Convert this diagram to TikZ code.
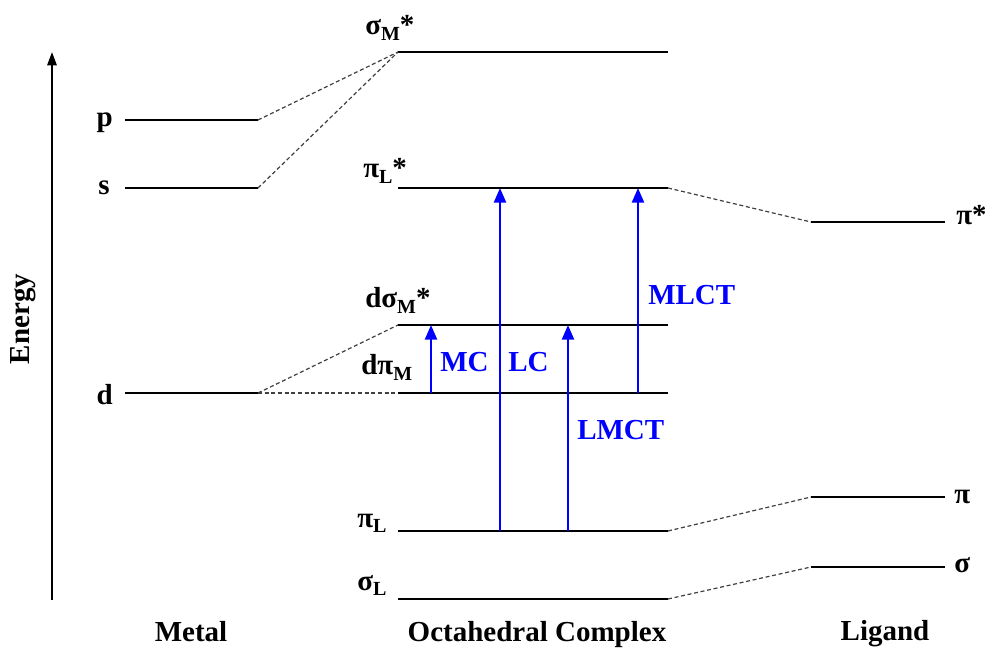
\documentclass[tikz,border=0pt]{standalone}
\usepackage{fontspec}
\setmainfont{Liberation Serif}
\usetikzlibrary{arrows.meta}
\newcommand{\levsub}[1]{\raisebox{-0.2em}{\fontsize{15}{15}\selectfont #1}}

\tikzset{
  level/.style={line width=2.1pt},
  corr/.style={draw={rgb, 255:red, 64; green, 64; blue, 64 }, line width=0.9pt, dash pattern=on 3pt off 2pt},
  trans/.style={draw={rgb, 255:red, 0; green, 0; blue, 255 }, line width=1.8pt, -{Triangle[length=11pt,width=9pt]}},
  lbl/.style={inner sep=0pt, font=\bfseries\fontsize{21.75}{26}\selectfont},
  tlbl/.style={lbl, text={rgb, 255:red, 0; green, 0; blue, 255 }}
}

\begin{document}
\begin{tikzpicture}[x=0.75pt,y=0.75pt,yscale=-1,xscale=1]
\path[use as bounding box] (0,0) rectangle (985,648);

%Energy axis
\coordinate (ax-b) at (52,600);
\coordinate (ax-t) at (52,52);
\draw [line width=1.5pt, -{Triangle[length=10pt,width=7pt]}] (ax-b) -- (ax-t) ;

%Metal levels
\coordinate (mp-w) at (125,120); \coordinate (mp-e) at (258,120);
\coordinate (ms-w) at (125,188); \coordinate (ms-e) at (258,188);
\coordinate (md-w) at (125,393); \coordinate (md-e) at (258,393);
\draw [level] (mp-w) -- (mp-e) ;
\draw [level] (ms-w) -- (ms-e) ;
\draw [level] (md-w) -- (md-e) ;

%Complex levels
\coordinate (sm-w) at (398,52);  \coordinate (sm-e) at (668,52);
\coordinate (pls-w) at (398,188); \coordinate (pls-e) at (668,188);
\coordinate (dsm-w) at (398,325); \coordinate (dsm-e) at (668,325);
\coordinate (dpm-w) at (398,393); \coordinate (dpm-e) at (668,393);
\coordinate (pl-w) at (398,531); \coordinate (pl-e) at (668,531);
\coordinate (sl-w) at (398,599); \coordinate (sl-e) at (668,599);
\draw [level] (sm-w) -- (sm-e) ;
\draw [level] (pls-w) -- (pls-e) ;
\draw [level] (dsm-w) -- (dsm-e) ;
\draw [level] (dpm-w) -- (dpm-e) ;
\draw [level] (pl-w) -- (pl-e) ;
\draw [level] (sl-w) -- (sl-e) ;

%Ligand levels
\coordinate (lps-w) at (811,222); \coordinate (lps-e) at (945,222);
\coordinate (lp-w) at (811,497);  \coordinate (lp-e) at (945,497);
\coordinate (ls-w) at (811,567);  \coordinate (ls-e) at (945,567);
\draw [level] (lps-w) -- (lps-e) ;
\draw [level] (lp-w) -- (lp-e) ;
\draw [level] (ls-w) -- (ls-e) ;

%Straight Lines (correlation)
\draw [corr] (mp-e) -- (sm-w) ;
\draw [corr] (ms-e) -- (sm-w) ;
\draw [corr] (md-e) -- (dsm-w) ;
\draw [corr] (md-e) -- (dpm-w) ;
\draw [corr] (pls-e) -- (lps-w) ;
\draw [corr] (pl-e) -- (lp-w) ;
\draw [corr] (sl-e) -- (ls-w) ;

%Transitions
\coordinate (mc) at (431,0);
\coordinate (lc) at (500,0);
\coordinate (lmct) at (568,0);
\coordinate (mlct) at (638,0);
\draw [trans] (mc |- dpm-w) -- (mc |- dsm-w) ;
\draw [trans] (lc |- pl-w) -- (lc |- pls-w) ;
\draw [trans] (lmct |- pl-w) -- (lmct |- dsm-w) ;
\draw [trans] (mlct |- dpm-w) -- (mlct |- pls-w) ;

% Text Node
\node [lbl, anchor=base east] (p-lab) at (113,127) {p};
\node [lbl, anchor=base east] (s-lab) at (110,195) {s};
\node [lbl, anchor=base east] (d-lab) at (113,405) {d};
% Text Node
\node [lbl, anchor=base west] (sm-lab) at (365,35) {σ\levsub{M}*};
\node [lbl, anchor=base west] (pls-lab) at (363,178) {π\levsub{L}*};
\node [lbl, anchor=base west] (dsm-lab) at (365,308) {dσ\levsub{M}*};
\node [lbl, anchor=base west] (dpm-lab) at (361,375) {dπ\levsub{M}};
\node [lbl, anchor=base west] (pl-lab) at (357,527) {π\levsub{L}};
\node [lbl, anchor=base west] (sl-lab) at (357,590) {σ\levsub{L}};
% Text Node
\node [lbl, anchor=base west] (lps-lab) at (956,225) {π*};
\node [lbl, anchor=base west] (lp-lab) at (954,503) {π};
\node [lbl, anchor=base west] (ls-lab) at (954,572) {σ};
% Text Node
\node [tlbl, anchor=base west] (mc-lab) at (440,372) {MC};
\node [tlbl, anchor=base west] (lc-lab) at (508,372) {LC};
\node [tlbl, anchor=base west] (lmct-lab) at (577,440) {LMCT};
\node [tlbl, anchor=base west] (mlct-lab) at (648,305) {MLCT};
% Text Node
\node [lbl, anchor=base] (metal-lab) at (191,641) {Metal};
\node [lbl, anchor=base] (oct-lab) at (537,641) {Octahedral Complex};
\node [lbl, anchor=base] (lig-lab) at (885,640) {Ligand};
\node [lbl, anchor=base, rotate=90] (en-lab) at (29,319) {Energy};

\end{tikzpicture}
\end{document}
